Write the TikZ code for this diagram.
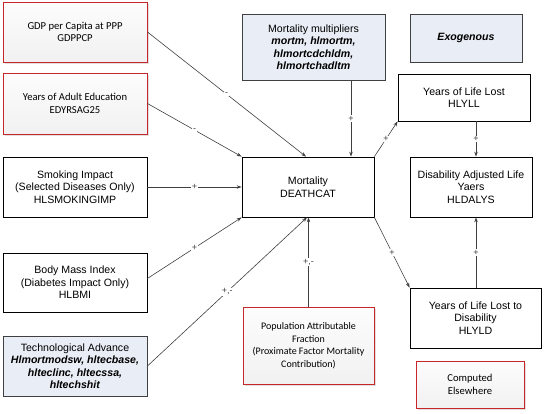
\documentclass[tikz,border=0pt]{standalone}
\usepackage{fontspec}
\setmainfont{Liberation Sans}
\newfontfamily\calfont{Carlito}
\usetikzlibrary{arrows.meta,shadows}
\definecolor{redbd}{HTML}{C8262B}
\definecolor{bluefill}{HTML}{E9EDF5}
\definecolor{linec}{HTML}{404040}
\tikzset{
  box/.style={draw=black, line width=0.8pt, fill=white, inner sep=1pt, align=center,
    font=\fontsize{10.6}{12.5}\selectfont},
  redbox/.style={draw=redbd, line width=0.9pt, top color=gray!2, bottom color=gray!11, inner sep=1pt, align=center,
    font=\calfont\fontsize{10.6}{12.5}\selectfont,
    drop shadow={shadow xshift=1.5pt, shadow yshift=-1.5pt, opacity=0.25, fill=gray}},
  bluebox/.style={draw=linec, line width=0.9pt, fill=bluefill, inner sep=1pt, align=center,
    font=\fontsize{10.6}{12.5}\selectfont},
  conn/.style={draw=linec, line width=0.6pt, -{Stealth[length=5pt,width=3.5pt]}},
  lbl/.style={midway, fill=white, inner sep=0.8pt, font=\fontsize{9}{9}\selectfont, text=linec}
}
\begin{document}
\begin{tikzpicture}[x=1pt,y=-1pt]
\useasboundingbox[fill=white] (0,0) rectangle (544,413);

\node[redbox, minimum width=144pt, minimum height=60pt] (gdp) at (75,32) {GDP per Capita at PPP\\GDPPCP};
\node[redbox, minimum width=144pt, minimum height=61pt] (edu) at (75,103.5) {Years of Adult Education\\EDYRSAG25};
\node[bluebox, minimum width=143pt, minimum height=66pt] (mult) at (313.5,47) {Mortality multipliers\\\textbf{\textit{mortm, hlmortm,}}\\\textbf{\textit{hlmortcdchldm,}}\\\textbf{\textit{hlmortchadltm}}};
\node[bluebox, minimum width=112pt, minimum height=48pt] (exo) at (466,38) {\textbf{\textit{Exogenous}}};
\node[box, minimum width=132pt, minimum height=47pt] (yll) at (464,97.5) {Years of Life Lost\\HLYLL};
\node[box, minimum width=144pt, minimum height=60pt] (smok) at (75,187) {Smoking Impact\\(Selected Diseases Only)\\HLSMOKINGIMP};
\node[box, minimum width=132pt, minimum height=60pt] (mort) at (308,187) {Mortality\\DEATHCAT};
\node[box, minimum width=122pt, minimum height=60pt] (daly) at (471,187) {Disability Adjusted Life\\Yaers\\HLDALYS};
\node[box, minimum width=144pt, minimum height=59pt] (bmi) at (75,282.5) {Body Mass Index\\(Diabetes Impact Only)\\HLBMI};
\node[bluebox, minimum width=144pt, minimum height=60pt] (tech) at (75,366) {Technological Advance\\\textbf{\textit{Hlmortmodsw, hltecbase,}}\\\textbf{\textit{hlteclinc, hltecssa,}}\\\textbf{\textit{hltechshit}}};
\node[redbox, minimum width=131pt, minimum height=77pt, font=\calfont\fontsize{10}{12.5}\selectfont] (paf) at (308.5,345.5) {Population Attributable\\Fraction\\(Proximate Factor Mortality\\Contribution)};
\node[box, minimum width=131pt, minimum height=60pt] (yld) at (475.5,318) {Years of Life Lost to\\Disability\\HLYLD};
\node[redbox, minimum width=108pt, minimum height=47pt] (comp) at (470,384.5) {Computed\\Elsewhere};

\draw[conn] (gdp.east) -- ([xshift=-2pt]mort.north) node[lbl] {-};
\draw[conn] (edu.east) -- (mort.north west) node[lbl] {-};
\draw[conn] (smok.east) -- (mort.west) node[lbl] {+};
\draw[conn] ([yshift=4pt]bmi.east) -- (mort.south west) node[lbl] {+};
\draw[conn] (tech.east) -- ([xshift=-1pt]mort.south) node[lbl] {+,-};
\draw[conn] (paf.north) -- (paf.north |- mort.south) node[lbl] {+,-};
\draw[conn] ([xshift=37.5pt]mult.south) -- ([xshift=43pt]mort.north) node[lbl] {+};
\draw[conn] (mort.north east) -- (yll.south west) node[lbl] {+};
\draw[conn] ([xshift=12pt]yll.south) -- ([xshift=5pt]daly.north) node[lbl] {+};
\draw[conn] (mort.south east) -- (yld.north west) node[lbl] {+};
\draw[conn] ([xshift=0.5pt]yld.north) -- ([xshift=5pt]daly.south) node[lbl] {+};
\end{tikzpicture}
\end{document}
